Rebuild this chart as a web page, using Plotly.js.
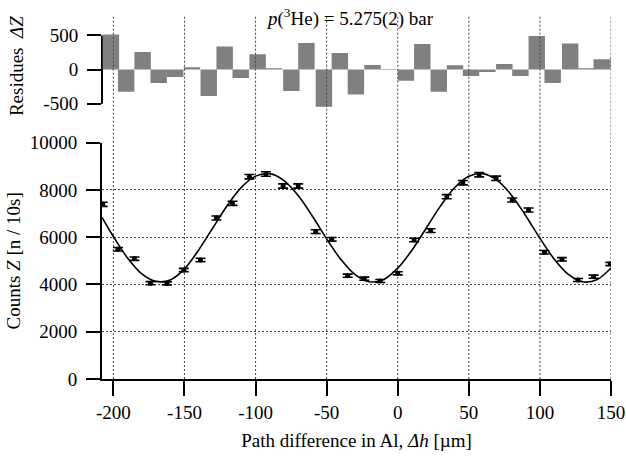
<!DOCTYPE html>
<html>
<head>
<meta charset="utf-8">
<script src="https://cdn.plot.ly/plotly-3.0.1.min.js"></script>
<style>html,body{margin:0;padding:0;background:#fff;}#chart{width:626px;height:464px;}</style>
</head>
<body>
<div id="chart"></div>
<script>
// ---- data ----
var pathDiff = [-207.5, -196.8, -185.2, -173.9, -162.3, -150.5, -138.7, -127.5, -116.2, -104.3,
                -92.7, -80.6, -70.0, -57.7, -46.5, -35.2, -23.5, -12.3, 0.0, 11.5,
                23.1, 34.5, 45.8, 57.3, 69.2, 80.5, 92.0, 103.2, 115.5, 126.8, 137.7, 149.5];
var counts = [7393, 5489, 5091, 4055, 4045, 4613, 5036, 6813, 7435, 8561,
              8675, 8168, 8168, 6234, 5912, 4372, 4245, 4147, 4473, 5882,
              6276, 7715, 8307, 8646, 8493, 7575, 7152, 5362, 5066, 4190, 4329, 4867];
var countErr = [86, 74, 71, 64, 64, 68, 71, 83, 86, 93,
                93, 90, 90, 79, 77, 66, 65, 64, 67, 77,
                79, 88, 91, 93, 92, 87, 85, 73, 71, 65, 66, 70];
var residues = [515, -326, 258, -195, -107, 34, -385, 340, -122, 224,
                20, -312, 389, -545, 243, -365, 66, 10, -165, 375,
                -326, 63, -92, -34, 83, -92, 491, -195, 384, 19, 150, 180];
var fitX = [-208, -200, -190, -180, -170, -160, -150, -140, -130, -120, -110, -100, -90,
            -80, -70, -60, -50, -40, -30, -20, -10, 0, 10, 20, 30, 40, 50, 60,
            70, 80, 90, 100, 110, 120, 130, 140, 150];
var fitY = [6840, 6030, 5120, 4450, 4130, 4190, 4660, 5460, 6400, 7330, 8110, 8585, 8690,
            8395, 7760, 6885, 5930, 5060, 4415, 4115, 4205, 4690, 5450, 6380, 7315, 8095, 8580, 8690,
            8405, 7780, 6910, 5960, 5080, 4430, 4115, 4200, 4700];
var xTickVals = [-200, -150, -100, -50, 0, 50, 100, 150];
var xTickText = ['-200', '-150', '-100', '-50', '0', '50', '100', '150'];
var yTickVals = [0, 2000, 4000, 6000, 8000, 10000];
var yTickText = ['0', '2000', '4000', '6000', '8000', '10000'];
var rTickVals = [-500, 0, 500];
var rTickText = ['-500', '0', '500'];

var FONT = 'Liberation Serif';
var FS = 19;
var GRID = {color: '#444', width: 1, dash: '2px,2px'};

var traces = [
  {
    type: 'bar', x: pathDiff, y: residues, xaxis: 'x', yaxis: 'y2',
    offset: 0, width: 11.55,
    marker: {color: '#808080', line: {width: 0}},
    hoverinfo: 'skip', showlegend: false
  },
  {
    type: 'scatter', mode: 'lines', x: fitX, y: fitY,
    line: {color: '#000', width: 1.6, shape: 'spline', smoothing: 1},
    hoverinfo: 'skip', showlegend: false
  },
  {
    type: 'scatter', mode: 'markers', x: pathDiff, y: counts,
    marker: {color: '#000', size: 5, symbol: 'circle'},
    error_y: {type: 'data', array: countErr, visible: true, color: '#000', thickness: 1.6, width: 5},
    hoverinfo: 'skip', showlegend: false
  }
];

var shapes = [];
xTickVals.forEach(function (v) {
  shapes.push({type: 'line', xref: 'x', yref: 'paper', x0: v, x1: v, y0: 0, y1: 0.6492,
               layer: 'below', line: GRID});
  shapes.push({type: 'line', xref: 'x', yref: 'paper', x0: v, x1: v, y0: 0.6492, y1: 1,
               layer: 'above', line: GRID});
});
// residue axis line (only between -500 and 500)
shapes.push({type: 'line', xref: 'paper', yref: 'y2', x0: 0, x1: 0, y0: rTickVals[0], y1: rTickVals[2],
             layer: 'below', line: {color: '#000', width: 2}});

var layout = {
  width: 626, height: 464,
  margin: {l: 102, r: 15, t: 15, b: 85},
  paper_bgcolor: '#fff', plot_bgcolor: '#fff',
  font: {family: FONT, size: FS, color: '#000'},
  showlegend: false, hovermode: false,
  xaxis: {
    range: [-208, 150], tickmode: 'array', tickvals: xTickVals, ticktext: xTickText,
    ticks: 'outside', ticklen: 15, tickwidth: 2, tickcolor: '#000',
    showline: true, linewidth: 2, linecolor: '#000',
    showgrid: false, zeroline: false,
    tickfont: {family: FONT, size: FS},
    title: {text: 'Path difference in Al, <i>Δh</i> [µm]', font: {family: FONT, size: FS}, standoff: 12}
  },
  yaxis: {
    domain: [0, 0.6492], range: [0, 10000], tickmode: 'array', tickvals: yTickVals, ticktext: yTickText,
    ticks: 'outside', ticklen: 14, tickwidth: 2, tickcolor: '#000', ticklabelstandoff: 5,
    showline: true, linewidth: 2, linecolor: '#000',
    showgrid: true, gridcolor: '#444', gridwidth: 1, griddash: '2px,2px', zeroline: false,
    tickfont: {family: FONT, size: FS},
    title: {text: 'Counts <i>Z</i> [n / 10s]', font: {family: FONT, size: FS}, standoff: 4}
  },
  yaxis2: {
    domain: [0.7187, 1], range: [-700, 800], anchor: 'x',
    tickmode: 'array', tickvals: rTickVals, ticktext: rTickText,
    ticks: 'outside', ticklen: 14, tickwidth: 2, tickcolor: '#000', ticklabelstandoff: 5,
    showline: false, showgrid: false, zeroline: false,
    tickfont: {family: FONT, size: FS},
    title: {text: 'Residues  <i>ΔZ</i>', font: {family: FONT, size: FS}, standoff: 14}
  },
  shapes: shapes,
  annotations: [{
    xref: 'paper', yref: 'paper', x: 0.488, y: 0.9945, xanchor: 'center', yanchor: 'middle',
    showarrow: false, text: '<i>p</i>(<sup>3</sup>He) = 5.275(2) bar',
    font: {family: FONT, size: FS, color: '#000'}
  }]
};

Plotly.newPlot('chart', traces, layout, {staticPlot: true, displayModeBar: false});
</script>
</body>
</html>
